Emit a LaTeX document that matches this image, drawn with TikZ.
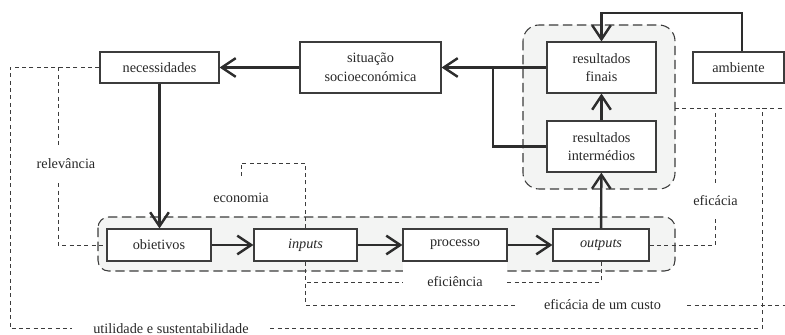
\documentclass[tikz,border=0pt]{standalone}
\usepackage{fontspec}
\setmainfont{Liberation Serif}
\usetikzlibrary{arrows.meta}

\definecolor{boxline}{RGB}{60,60,60}
\definecolor{flowline}{RGB}{45,45,45}
\definecolor{panelfill}{RGB}{243,244,243}
\definecolor{textgrey}{RGB}{40,40,40}

\tikzset{
  box/.style 2 args={draw=boxline, line width=0.9pt, fill=white, minimum width=#1*0.75pt, minimum height=#2*0.75pt, inner sep=0pt, align=center},
  tag/.style 2 args={minimum width=#1*0.75pt, minimum height=#2*0.75pt, inner sep=0pt},
  flow/.style={draw=flowline, line width=1.8pt, -{Straight Barb[length=10.5pt, width=14pt]}},
  link/.style={draw=flowline, line width=1.8pt},
  measure/.style={draw=boxline, line width=0.6pt, dash pattern=on 3pt off 2.5pt},
  panel/.style={draw=boxline, line width=0.8pt, fill=panelfill, dash pattern=on 7pt off 3.5pt}
}

\begin{document}
\begin{tikzpicture}[x=0.75pt, y=-0.75pt, font=\fontsize{10.7}{14}\selectfont, text=textgrey]
\useasboundingbox (0,0) rectangle (785,335);

\draw[panel, rounded corners=12pt] (523,25) rectangle (675,189);
\draw[panel, rounded corners=8pt] (98,217) rectangle (675,271);

\node[tag={104}{42}, fill=white] (eff) at (455,282) {eficiência};

\node[box={119}{31}] (nec) at (159.5,67.5) {necessidades};
\node[box={141}{51}] (sit) at (370.5,67.5) {situação\\socioeconómica};
\node[box={109}{51}] (fin) at (601.5,67.5) {resultados\\finais};
\node[box={109}{51}] (int) at (601.5,146.5) {resultados\\intermédios};
\node[box={91}{31}] (amb) at (738.5,67.5) {ambiente};
\node[box={104}{32}] (obj) at (159,245) {obietivos};
\node[box={103}{32}] (inp) at (305.5,245) {\itshape inputs};
\node[box={104}{32}] (pro) at (455,245) {processo};
\node[box={96}{32}] (out) at (601,245) {\itshape outputs};

\node[tag={60}{38}] (rel) at (66,164) {relevância};
\node[tag={60}{42}] (eco) at (241,198) {economia};
\node[tag={46}{36}] (efc) at (715.5,201) {eficácia};
\node[tag={169}{20}] (cost) at (602.5,305) {eficácia de um custo};
\node[tag={198}{20}] (util) at (171,328.5) {utilidade e sustentabilidade};

\coordinate (nw) at (10,67.5);
\coordinate (rv) at (58,67.5);
\coordinate (ecotop) at (241,163);
\coordinate (jn) at (493,67.5);
\coordinate (envtop) at (742,13);
\coordinate (rl) at (675,108);
\coordinate (rt) at (785,108);
\coordinate (ru) at (762,108);
\coordinate (ce) at (785,305);

\draw[flow] (sit) -- (nec);
\draw[flow] (fin) -- (sit);
\draw[link] (int.west) -| (jn);
\draw[flow] (int) -- (fin);
\draw[flow] (out) -- (int);
\draw[flow] (nec.south) -- (nec.south |- obj.north);
\draw[flow] (obj) -- (inp);
\draw[flow] (inp) -- (pro);
\draw[flow] (pro) -- (out);
\draw[flow] (amb.north -| envtop) -- (envtop) -| (fin.north);

\draw[measure] (nec.west) -- (nw) |- (util.west);
\draw[measure] (util.east) -| (ru);
\draw[measure] (rl) -- (rt);
\draw[measure] (rv) -- (rv |- rel.north);
\draw[measure] (rv |- rel.south) |- (obj.west);
\draw[measure] (inp.north) |- (ecotop) -- (eco.north);
\draw[measure] (inp.south) |- (eff.west);
\draw[measure] (eff.east) -| (out.south);
\draw[measure] (inp.south) |- (cost.west);
\draw[measure] (cost.east) -- (ce);
\draw[measure] (out.east) -| (efc.south);
\draw[measure] (efc.north) -- (efc.north |- rl);
\end{tikzpicture}
\end{document}
